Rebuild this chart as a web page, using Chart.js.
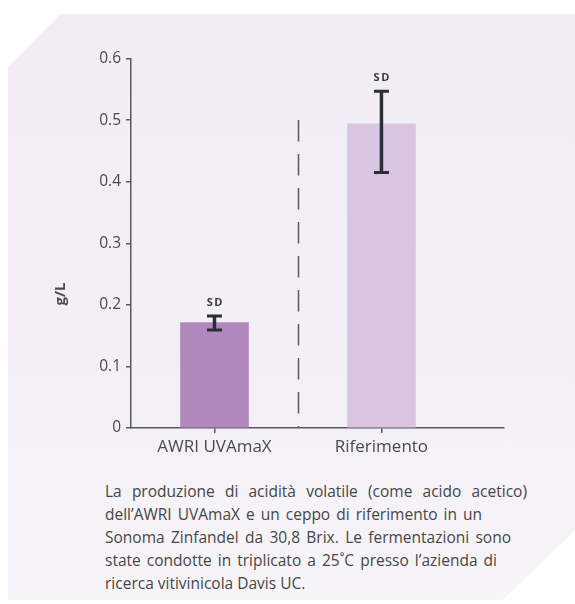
<!DOCTYPE html>
<html>
<head>
<meta charset="utf-8">
<script src="https://cdn.jsdelivr.net/npm/chart.js@4.4.1/dist/chart.umd.min.js"></script>
<style>
  html, body { margin: 0; padding: 0; background: #ffffff; }
  body { width: 575px; height: 604px; position: relative; overflow: hidden; font-family: "Open Sans", sans-serif; }
  #panel {
    position: absolute; left: 0; top: 0; width: 575px; height: 604px;
    clip-path: polygon(8px 67px, 60px 14px, 575px 14px, 575px 530px, 503px 600px, 8px 600px);
    background: linear-gradient(to bottom, #f2ecf7 0%, #f3eef7 55%, #f7f5f9 100%);
  }
  #chartBox { position: absolute; left: 0; top: 0; width: 575px; height: 470px; }
  #caption {
    position: absolute; left: 105px; top: 480px;
    font-size: 15.5px; line-height: 23px; color: #464646;
  }
  #caption div { white-space: nowrap; text-align: justify; text-align-last: justify; }
  #caption div.last { text-align-last: left; }
</style>
</head>
<body>
<div id="panel"></div>
<div id="chartBox"><canvas id="chart" width="575" height="470"></canvas></div>
<div id="caption">
  <div style="width:422px">La produzione di acidità volatile (come acido acetico)</div>
  <div style="width:377px">dell’AWRI UVAmaX e un ceppo di riferimento in un</div>
  <div style="width:406px">Sonoma Zinfandel da 30,8 Brix. Le fermentazioni sono</div>
  <div style="width:392px">state condotte in triplicato a 25˚C presso l’azienda di</div>
  <div class="last">ricerca vitivinicola Davis UC.</div>
</div>
<script>
  const categories = ["AWRI UVAmaX", "Riferimento"];
  const xPositions = [0.5, 1.5];
  const values = [0.171, 0.494];
  const sdLow = [0.159, 0.415];
  const sdHigh = [0.182, 0.547];
  const barColors = ["#b088bc", "#d9c5e1"];
  const yTicks = [0, 0.1, 0.2, 0.3, 0.4, 0.5, 0.6];
  const dividerX = 1.0;
  const dividerTop = 0.5;

  const axisColor = "#58585e";
  const textColor = "#4a4a4a";

  const extrasPlugin = {
    id: "extras",
    afterDatasetsDraw(chart) {
      const { ctx, scales } = chart;
      const x = scales.x;
      const y = scales.y;

      // dashed divider between the two groups
      ctx.save();
      ctx.strokeStyle = axisColor;
      ctx.lineWidth = 1.5;
      ctx.setLineDash([21.5, 12.5]);
      ctx.beginPath();
      const dx = Math.round(x.getPixelForValue(dividerX)) + 0.5;
      ctx.moveTo(dx, y.getPixelForValue(dividerTop));
      ctx.lineTo(dx, y.getPixelForValue(0));
      ctx.stroke();
      ctx.restore();

      // error bars with SD label
      ctx.save();
      ctx.strokeStyle = "#2b2e34";
      values.forEach((v, i) => {
        const px = x.getPixelForValue(xPositions[i]);
        const top = y.getPixelForValue(sdHigh[i]);
        const bottom = y.getPixelForValue(sdLow[i]);
        ctx.lineWidth = 3.5;
        ctx.beginPath();
        ctx.moveTo(px, top);
        ctx.lineTo(px, bottom);
        ctx.stroke();
        ctx.lineWidth = 3;
        ctx.beginPath();
        ctx.moveTo(px - 7.5, top);
        ctx.lineTo(px + 7.5, top);
        ctx.moveTo(px - 7.5, bottom);
        ctx.lineTo(px + 7.5, bottom);
        ctx.stroke();

        ctx.fillStyle = "#3a3a40";
        ctx.font = "bold 11px 'Open Sans'";
        ctx.textAlign = "center";
        ctx.textBaseline = "middle";
        ctx.letterSpacing = "1.5px";
        ctx.fillText("SD", px + 0.75, top - 13);
      });
      ctx.restore();

      // y axis title
      ctx.save();
      ctx.fillStyle = textColor;
      ctx.font = "bold 15px 'Open Sans'";
      ctx.textAlign = "center";
      ctx.textBaseline = "middle";
      ctx.translate(61, 294);
      ctx.rotate(-Math.PI / 2);
      ctx.fillText("g/L", 0, 0);
      ctx.restore();
    },
  };

  new Chart(document.getElementById("chart"), {
    type: "bar",
    data: {
      datasets: [
        {
          data: xPositions.map((xv, i) => ({ x: xv, y: values[i] })),
          backgroundColor: barColors,
          barThickness: 68,
          borderWidth: 0,
        },
      ],
    },
    options: {
      responsive: false,
      animation: false,
      layout: { padding: { left: 0, right: 71, top: 58.5, bottom: 7 } },
      plugins: {
        legend: { display: false },
        tooltip: { enabled: false },
      },
      scales: {
        x: {
          type: "linear",
          offset: false,
          min: 0,
          max: 2.234,
          afterBuildTicks(scale) {
            scale.ticks = xPositions.map((v) => ({ value: v }));
          },
          afterFit(scale) {
            scale.height = 35;
          },
          ticks: {
            color: textColor,
            font: { family: "Open Sans", size: 17 },
            padding: 4,
            maxRotation: 0,
            callback: (value, index) => categories[index],
          },
          grid: { offset: false, drawOnChartArea: false, drawTicks: true, tickLength: 5, color: axisColor, lineWidth: 1.5 },
          border: { display: true, color: axisColor, width: 1.5 },
        },
        y: {
          min: 0,
          max: 0.6,
          afterBuildTicks(scale) {
            scale.ticks = yTicks.map((v) => ({ value: v }));
          },
          afterFit(scale) {
            scale.width = 131;
          },
          ticks: {
            color: textColor,
            font: { family: "Open Sans", size: 15.5 },
            padding: 5,
            callback: (value) => String(value),
          },
          grid: { drawOnChartArea: false, drawTicks: true, tickLength: 5, color: axisColor, lineWidth: 1.5 },
          border: { display: true, color: axisColor, width: 1.5 },
        },
      },
    },
    plugins: [extrasPlugin],
  });
</script>
</body>
</html>
